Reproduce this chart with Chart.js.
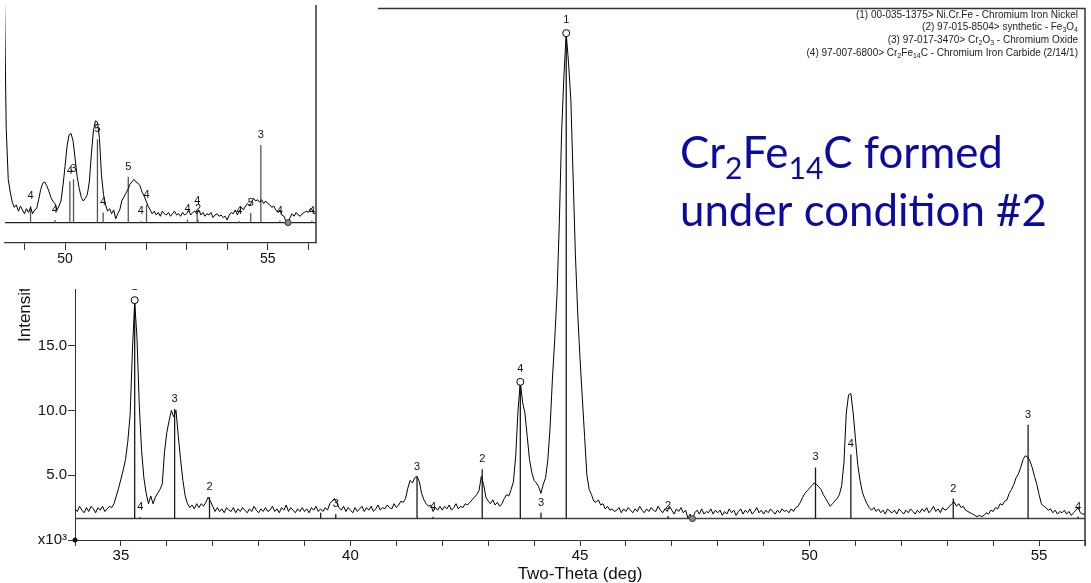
<!DOCTYPE html>
<html>
<head>
<meta charset="utf-8">
<script src="https://cdn.jsdelivr.net/npm/chart.js@4.4.1/dist/chart.umd.min.js"></script>
<style>
  html, body { margin: 0; padding: 0; background: #fff; }
  #wrap { position: relative; width: 1091px; height: 583px; overflow: hidden; }
  #main { position: absolute; left: 0; top: 0; }
  #inset { position: absolute; left: 0; top: 0; background: #fff; }
</style>
</head>
<body>
<div id="wrap">
  <canvas id="main" width="1091" height="583"></canvas>
  <canvas id="inset" width="378" height="289"></canvas>
</div>
<script>
// main scan: 2-theta from 34 to 56 deg, 0.05 deg step, intensity in x10^3 counts
const thetaStart = 34.0;
const thetaStep = 0.05;
const counts = [
  2.4, 2.2, 2.6, 2.3, 2.1, 2.5, 2.2, 2.6, 2.4, 2.1, 2.5, 2.3, 2.6, 2.2, 2.4, 2.6, 2.5, 2.8, 3.4, 4.0,
  4.7, 5.4, 6.2, 7.6, 9.6, 14.5, 18.4, 15.6, 10.4, 6.9, 4.8, 3.6, 2.8, 3.4, 2.8, 3.3, 3.6, 3.9, 4.3, 6.8,
  8.3, 9.2, 10.0, 9.5, 10.0, 8.0, 6.2, 4.6, 3.4, 2.8, 2.5, 2.7, 2.4, 2.8, 2.5, 2.8, 2.6, 2.9, 3.3, 3.0,
  2.6, 2.2, 2.5, 2.2, 2.4, 2.1, 2.5, 2.3, 2.2, 2.5, 2.1, 2.4, 2.2, 2.5, 2.3, 2.1, 2.4, 2.2, 2.6, 2.3,
  2.1, 2.4, 2.2, 2.5, 2.2, 2.3, 2.6, 2.2, 2.4, 2.1, 2.5, 2.3, 2.7, 2.2, 2.5, 2.3, 2.1, 2.4, 2.2, 2.5,
  2.2, 2.4, 2.1, 2.5, 2.3, 2.6, 2.2, 2.4, 2.2, 2.5, 2.3, 2.8, 3.0, 3.2, 2.9, 2.5, 2.3, 2.6, 2.2, 2.5,
  2.3, 2.1, 2.5, 2.2, 2.4, 2.6, 2.2, 2.5, 2.3, 2.6, 2.2, 2.4, 2.7, 2.3, 2.5, 2.4, 2.7, 2.5, 2.4, 2.8,
  2.5, 2.7, 3.0, 2.9, 3.2, 4.0, 4.6, 4.4, 4.8, 4.9, 4.5, 3.6, 3.1, 2.8, 2.6, 2.7, 2.2, 2.5, 2.3, 2.6,
  2.3, 2.6, 2.4, 2.7, 2.3, 2.5, 2.8, 2.4, 2.6, 2.5, 2.8, 2.7, 2.9, 3.1, 3.3, 3.5, 3.8, 4.9, 4.3, 3.3,
  3.0, 2.8, 3.1, 2.7, 2.9, 2.6, 2.8, 3.2, 3.5, 3.4, 3.9, 4.5, 6.5, 10.0, 12.2, 10.6, 9.8, 8.0, 6.2, 5.2,
  4.6, 4.4, 4.1, 3.6, 4.3, 4.8, 6.2, 8.8, 12.5, 15.5, 19.0, 24.5, 31.5, 35.8, 39.1, 36.8, 34.0, 28.0, 22.0, 17.5,
  14.0, 11.0, 8.0, 5.0, 3.9, 3.5, 3.0, 2.9, 3.1, 2.7, 2.8, 2.4, 2.6, 2.3, 2.4, 2.2, 2.3, 2.5, 2.1, 2.4,
  2.2, 2.5, 2.3, 2.1, 2.4, 2.2, 2.6, 2.3, 2.1, 2.4, 2.2, 2.5, 2.3, 2.2, 2.6, 2.3, 2.1, 2.4, 2.2, 2.6,
  2.3, 2.0, 2.4, 2.2, 2.5, 2.1, 2.3, 1.7, 2.0, 1.6, 2.1, 2.3, 2.0, 2.4, 2.0, 2.2, 2.1, 2.4, 2.0, 2.3,
  2.1, 2.3, 1.9, 2.2, 2.0, 2.4, 2.1, 2.3, 1.9, 2.2, 2.4, 2.0, 2.3, 2.1, 2.4, 2.0, 2.2, 2.5, 2.1, 2.3,
  2.0, 2.3, 2.1, 2.4, 2.2, 2.0, 2.3, 2.1, 2.4, 2.2, 2.3, 2.1, 2.4, 2.2, 2.5, 2.6, 2.9, 3.3, 3.6, 3.8,
  4.0, 4.2, 4.4, 4.3, 4.1, 3.9, 3.5, 3.2, 2.9, 2.6, 2.8, 3.0, 3.2, 3.5, 4.2, 6.0, 9.8, 11.2, 11.3, 9.8,
  7.8, 5.8, 4.6, 3.7, 3.2, 2.8, 2.5, 2.3, 2.5, 2.2, 2.4, 2.1, 2.3, 2.0, 2.4, 2.2, 2.1, 2.3, 2.0, 2.4,
  2.2, 2.0, 2.3, 2.1, 2.4, 2.2, 2.0, 2.3, 2.1, 2.4, 2.2, 2.5, 2.1, 2.3, 2.6, 2.2, 2.4, 2.1, 2.5, 2.3,
  2.4, 2.6, 2.8, 2.95, 2.6, 2.8, 2.5, 2.6, 2.3, 2.2, 2.1, 2.0, 1.9, 1.8, 1.9, 1.8, 1.9, 2.1, 2.0, 2.3,
  2.2, 2.5, 2.4, 2.8, 2.7, 3.0, 3.1, 3.6, 3.9, 4.3, 4.8, 5.1, 5.6, 6.2, 6.5, 6.4, 6.1, 5.6, 4.9, 4.3,
  3.5, 2.8, 2.6, 2.5, 2.3, 2.4, 2.1, 2.3, 2.0, 2.2, 2.1, 2.3, 2.0, 2.2, 1.9, 2.1, 2.3, 2.5, 2.1, 2.0,
  2.0
];
const baseLevel = 1.65;

// reference pattern sticks (phase numbers from the legend)
const stickPos   = [35.30, 35.42, 36.17, 36.93, 39.35, 39.68, 41.45, 41.80, 42.87, 43.70, 44.15, 44.70, 46.92, 50.13, 50.90, 53.13, 54.76, 55.85];
const stickTop   = [18.5, 1.75, 10.1, 3.3, 2.1, 2.0, 4.9, 1.8, 5.45, 12.2, 2.1, 39.1, 1.85, 5.6, 6.6, 3.2, 8.9, 1.8];
const stickLabel = ['1', '4', '3', '2', '', '3', '3', '4', '2', '4', '3', '1', '2', '3', '4', '2', '3', '4'];
const markPos = [35.30, 43.70, 44.70];
const markVal = [18.5, 12.2, 39.1];
const endMark = [47.45];

const xTicks = [34, 35, 36, 37, 38, 39, 40, 41, 42, 43, 44, 45, 46, 47, 48, 49, 50, 51, 52, 53, 54, 55, 56];
const xMajor = [35, 40, 45, 50, 55];
const yTicks = [0, 5, 10, 15, 20, 25, 30, 35, 40];

// inset scan: 48.5 to 56.2 deg, 0.05 deg step
const insetStart = 48.5;
const insetCounts = [
  21, 9.0, 5.0, 4.0, 3.2, 2.8, 3.0, 2.5, 2.9, 2.6,
  2.3, 2.7, 2.4, 2.8, 2.3, 2.6, 2.7, 3.4, 4.2, 4.7, 4.8, 4.5, 4.1, 3.6, 3.3, 3.1, 2.6, 2.9, 3.3, 4.5,
  6.0, 7.6, 8.5, 8.6, 8.0, 6.6, 5.2, 4.3, 3.6, 3.3, 3.5, 3.8, 4.8, 7.0, 8.8, 9.6, 9.5, 8.2, 5.3, 3.8,
  3.0, 2.5, 2.7, 2.3, 2.6, 1.9, 2.3, 2.6, 3.3, 3.6, 3.9, 4.2, 4.6, 4.8, 5.0, 4.8, 4.7, 4.5, 4.0, 3.7,
  3.3, 2.9, 2.6, 2.3, 2.5, 2.2, 2.4, 2.1, 2.5, 2.3, 2.2, 2.4, 2.1, 2.3, 2.5, 2.2, 2.3, 2.1, 2.4, 2.2,
  2.3, 2.6, 2.2, 2.4, 2.5, 2.3, 2.6, 2.2, 2.4, 2.1, 2.3, 2.2, 2.4, 2.0, 2.2, 2.3, 2.1, 2.2, 2.0, 2.1,
  1.8, 2.2, 2.4, 2.3, 2.6, 2.2, 2.5, 2.8, 2.6, 2.9, 3.1, 2.9, 3.2, 3.5, 3.3, 3.4, 3.2, 3.4, 3.1, 3.3,
  3.1, 3.0, 2.8, 2.9, 2.6, 2.4, 2.6, 2.2, 2.1, 1.7, 1.6, 2.0, 2.3, 2.1, 2.4, 2.2, 2.1, 2.3, 2.4, 2.5,
  2.4, 2.7, 2.6, 2.3, 2.4
];
const insetBase = 1.6;
const insetStickPos   = [49.15, 49.75, 50.12, 50.21, 50.80, 50.94, 51.56, 51.87, 52.01, 53.02, 53.26, 53.28, 54.30, 54.58, 54.83, 55.30, 56.09];
const insetStickTop   = [2.9, 1.8, 4.85, 5.0, 8.15, 2.4, 5.2, 1.7, 3.0, 1.85, 2.55, 1.85, 1.7, 2.35, 7.7, 1.75, 1.75];
const insetStickLabel = ['4', '4', '4', '3', '5', '4', '5', '4', '4', '4', '4', '2', '4', '5', '3', '4', '4'];
const insetEndMark = [55.50];
const insetTicks = [49, 50, 51, 52, 53, 54, 55, 56];
const insetMajor = [50, 55];

const legendLines = [
  '(1) 00-035-1375> Ni.Cr.Fe - Chromium Iron Nickel',
  '(2) 97-015-8504> synthetic - Fe_3O_4',
  '(3) 97-017-3470> Cr_2O_3 - Chromium Oxide',
  '(4) 97-007-6800> Cr_2Fe_14C - Chromium Iron Carbide (2/14/1)'
];
const noteLines = ['Cr_2Fe_14C formed', 'under condition #2'];

Chart.defaults.font.family = "'Liberation Sans', Arial, sans-serif";
Chart.defaults.color = '#111';

const FAMILY = "'Liberation Sans', Arial, sans-serif";

function stickData(pos, top, base) {
  const out = [];
  pos.forEach((p, i) => {
    out.push({ x: p, y: base }, { x: p, y: top[i] }, { x: p, y: null });
  });
  return out;
}

// text with "_12" parts drawn as subscripts
function drawRich(ctx, str, x, y, size, family, align, subScale, subDrop) {
  const parts = str.split(/_(\d+)/);
  const fontOf = i => (i % 2 ? Math.round(size * subScale) : size) + 'px ' + family;
  let w = 0;
  parts.forEach((t, i) => { ctx.font = fontOf(i); w += ctx.measureText(t).width; });
  let cx = align === 'right' ? x - w : x;
  ctx.textAlign = 'left';
  parts.forEach((t, i) => {
    ctx.font = fontOf(i);
    ctx.fillText(t, cx, y + (i % 2 ? size * subDrop : 0));
    cx += ctx.measureText(t).width;
  });
}

function labelPlugin(pos, top, labels, marked, size) {
  return {
    id: 'stickLabels',
    afterDatasetsDraw(chart) {
      const { ctx, scales: { x, y } } = chart;
      ctx.save();
      ctx.font = size + 'px ' + FAMILY;
      ctx.fillStyle = '#111';
      ctx.textAlign = 'center';
      ctx.textBaseline = 'middle';
      pos.forEach((p, i) => {
        if (!labels[i]) return;
        const lift = marked.includes(p) ? 13 : 10;
        ctx.fillText(labels[i], x.getPixelForValue(p), y.getPixelForValue(top[i]) - lift);
      });
      ctx.restore();
    }
  };
}

const mainDecor = {
  id: 'mainDecor',
  afterDraw(chart) {
    const { ctx, chartArea: a } = chart;
    ctx.save();
    ctx.strokeStyle = '#333';
    ctx.lineWidth = 1.5;
    ctx.beginPath();
    ctx.moveTo(a.left, a.top);
    ctx.lineTo(a.right, a.top);
    ctx.lineTo(a.right, a.bottom + 6);
    ctx.stroke();

    ctx.fillStyle = '#111';
    ctx.beginPath();
    ctx.arc(a.left, a.bottom, 2.5, 0, Math.PI * 2);
    ctx.fill();

    // axis titles
    ctx.font = '17px ' + FAMILY;
    ctx.textAlign = 'center';
    ctx.textBaseline = 'alphabetic';
    ctx.fillText('Two-Theta (deg)', (a.left + a.right) / 2, 579);
    ctx.save();
    ctx.translate(30, 342);
    ctx.rotate(-Math.PI / 2);
    ctx.textAlign = 'left';
    ctx.fillText('Intensity(Counts)', 0, 0);
    ctx.restore();

    // phase legend
    ctx.fillStyle = '#222';
    ctx.textBaseline = 'alphabetic';
    legendLines.forEach((l, i) => {
      drawRich(ctx, l, 1078, 17.5 + i * 12.7, 10, FAMILY, 'right', 0.7, 0.2);
    });

    // note
    ctx.fillStyle = '#0b0ba0';
    ctx.font = '48px Lato';
    const size = 48 * 367 / ctx.measureText(noteLines[1]).width;
    drawRich(ctx, noteLines[0], 680, 168, size, 'Lato', 'left', 0.68, 0.26);
    drawRich(ctx, noteLines[1], 680, 226, size, 'Lato', 'left', 0.68, 0.26);
    ctx.restore();
  }
};

new Chart(document.getElementById('main'), {
  type: 'line',
  data: {
    datasets: [
      { data: markPos.map((p, i) => ({ x: p, y: markVal[i] })), showLine: false, pointRadius: 3.5,
        pointBackgroundColor: '#fff', pointBorderColor: '#000', pointBorderWidth: 1, order: 0 },
      { data: endMark.map(p => ({ x: p, y: baseLevel })), showLine: false, pointRadius: 3,
        pointBackgroundColor: '#8a8a8a', pointBorderColor: '#333', pointBorderWidth: 1, order: 1 },
      { data: counts.map((c, i) => ({ x: thetaStart + i * thetaStep, y: c })), borderColor: '#000',
        borderWidth: 1, pointRadius: 0, order: 2 },
      { data: stickData(stickPos, stickTop, baseLevel), borderColor: '#1a1a1a', borderWidth: 1.3,
        pointRadius: 0, spanGaps: false, order: 3 },
      { data: [{ x: 34, y: baseLevel }, { x: 56, y: baseLevel }], borderColor: '#444', borderWidth: 1.5,
        pointRadius: 0, order: 4 }
    ]
  },
  options: {
    responsive: false,
    animation: false,
    devicePixelRatio: 1,
    layout: { padding: { left: 0, right: 6, top: 8, bottom: 0 } },
    plugins: { legend: { display: false }, tooltip: { enabled: false } },
    elements: { line: { tension: 0 } },
    scales: {
      x: {
        type: 'linear', min: 34, max: 56,
        afterBuildTicks: s => { s.ticks = xTicks.map(v => ({ value: v })); },
        afterFit: s => { s.height = 43; },
        ticks: { autoSkip: false, maxRotation: 0, padding: 1, font: { size: 15 },
                 callback: v => xMajor.includes(v) ? String(v) : '' },
        grid: { drawOnChartArea: false, drawTicks: true, tickLength: 6, color: '#333' },
        border: { display: true, color: '#333', width: 1 }
      },
      y: {
        type: 'linear', min: 0, max: 41,
        afterBuildTicks: s => { s.ticks = yTicks.map(v => ({ value: v })); },
        afterFit: s => { s.width = 75; },
        ticks: { autoSkip: false, padding: 1, font: { size: 15, lineHeight: 1 },
                 callback: v => v === 0 ? 'x10\u00B3' : v.toFixed(1) },
        grid: { drawOnChartArea: false, drawTicks: true, tickLength: 7, color: '#333' },
        border: { display: true, color: '#333', width: 1 }
      }
    }
  },
  plugins: [labelPlugin(stickPos, stickTop, stickLabel, markPos, 11), mainDecor]
});

const insetDecor = {
  id: 'insetDecor',
  afterDraw(chart) {
    const { ctx, chartArea: a } = chart;
    ctx.save();
    ctx.strokeStyle = '#333';
    ctx.lineWidth = 1.5;
    ctx.beginPath();
    ctx.moveTo(a.right, a.top);
    ctx.lineTo(a.right, a.bottom);
    ctx.stroke();
    ctx.restore();
  }
};

new Chart(document.getElementById('inset'), {
  type: 'line',
  data: {
    datasets: [
      { data: insetEndMark.map(p => ({ x: p, y: insetBase })), showLine: false, pointRadius: 3,
        pointBackgroundColor: '#8a8a8a', pointBorderColor: '#333', pointBorderWidth: 1, order: 0 },
      { data: insetCounts.map((c, i) => ({ x: insetStart + i * thetaStep, y: c })), borderColor: '#000',
        borderWidth: 1, pointRadius: 0, order: 1 },
      { data: stickData(insetStickPos, insetStickTop, insetBase), borderColor: '#555', borderWidth: 1.3,
        pointRadius: 0, spanGaps: false, order: 2 },
      { data: [{ x: 48.5, y: insetBase }, { x: 56.2, y: insetBase }], borderColor: '#222', borderWidth: 1.3,
        pointRadius: 0, order: 3 }
    ]
  },
  options: {
    responsive: false,
    animation: false,
    devicePixelRatio: 1,
    layout: { padding: { left: 0, right: 62, top: 0, bottom: 0 } },
    plugins: { legend: { display: false }, tooltip: { enabled: false } },
    elements: { line: { tension: 0 } },
    scales: {
      x: {
        type: 'linear', min: 48.52, max: 56.19,
        afterBuildTicks: s => { s.ticks = insetTicks.map(v => ({ value: v })); },
        afterFit: s => { s.height = 46; },
        ticks: { autoSkip: false, maxRotation: 0, padding: 1, font: { size: 14 },
                 callback: v => insetMajor.includes(v) ? String(v) : '' },
        grid: { drawOnChartArea: false, drawTicks: true, tickLength: 7, color: '#333' },
        border: { display: true, color: '#333', width: 1.3 }
      },
      y: { type: 'linear', min: 0, max: 18.7, display: false }
    }
  },
  plugins: [labelPlugin(insetStickPos, insetStickTop, insetStickLabel, [], 11), insetDecor]
});
</script>
</body>
</html>
